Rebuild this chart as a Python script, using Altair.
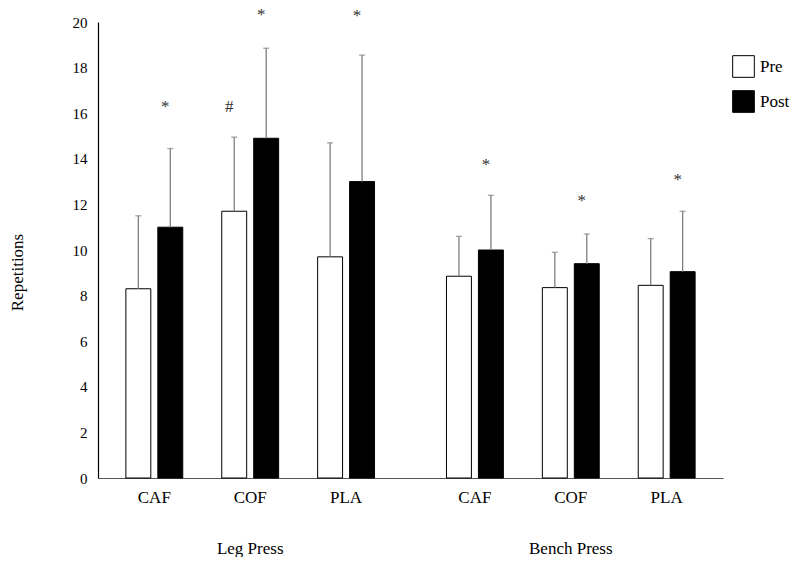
import altair as alt
import pandas as pd

presses = ["Leg Press", "Bench Press"]
supplements = ["CAF", "COF", "PLA"]
phases = ["Pre", "Post"]

# means, index [press][supplement]
pre_mean = [[8.3, 11.7, 9.7], [8.85, 8.35, 8.45]]
post_mean = [[11.0, 14.9, 13.0], [10.0, 9.4, 9.05]]
# mean + SD (top of error bar)
pre_top = [[11.5, 14.95, 14.7], [10.6, 9.9, 10.5]]
post_top = [[14.45, 18.85, 18.55], [12.4, 10.7, 11.7]]
# significance markers: press, supplement, phase, symbol, level (repetitions)
mk_press = ["Leg Press", "Leg Press", "Leg Press", "Leg Press", "Bench Press", "Bench Press", "Bench Press"]
mk_supp = ["CAF", "COF", "COF", "PLA", "CAF", "COF", "PLA"]
mk_phase = ["Post", "Pre", "Post", "Post", "Post", "Post", "Post"]
mk_sym = ["*", "#", "*", "*", "*", "*", "*"]
mk_level = [16.4, 16.4, 20.45, 20.4, 13.85, 12.3, 13.2]

rows = []
for i, p in enumerate(presses):
    for j, s in enumerate(supplements):
        for ph, m, t in (("Pre", pre_mean, pre_top), ("Post", post_mean, post_top)):
            rows.append({"press": p, "supp": s, "phase": ph, "slot": f"{s}-{ph}",
                         "mean": m[i][j], "top": t[i][j]})
df = pd.DataFrame(rows)

mk = pd.DataFrame({"press": mk_press, "slot": [f"{s}-{ph}" for s, ph in zip(mk_supp, mk_phase)],
                   "sym": mk_sym, "level": mk_level})

lab = pd.DataFrame([{"press": p, "supp": s, "slot": f"{s}-Post"} for p in presses for s in supplements])

slot_domain = ["CAF-Pre", "CAF-Post", "gap1", "COF-Pre", "COF-Post", "gap2", "PLA-Pre", "PLA-Post"]

FONT = "Liberation Serif"
W, H = 625, 456

x = alt.X("press:N", sort=presses,
          scale=alt.Scale(paddingInner=0.2025, paddingOuter=0.076),
          axis=alt.Axis(title=None, labelAngle=0, ticks=False, domainColor="#555555",
                        labelPadding=62, labelFontSize=17, labelFont=FONT, labelColor="black"))
xo = alt.XOffset("slot:N", scale=alt.Scale(domain=slot_domain, paddingInner=0.22, paddingOuter=0.11))
y = alt.Y("mean:Q", scale=alt.Scale(domain=[0, 20]),
          axis=alt.Axis(title="Repetitions", values=list(range(0, 21, 2)), grid=False, ticks=False,
                        domainColor="black", labelPadding=11, labelFontSize=15, labelFont=FONT,
                        labelColor="black", titleFont=FONT, titleFontSize=17, titleFontWeight="normal",
                        titleColor="black", titleX=-81, titleY=250, titleAlign="center",
                        titleBaseline="middle", titleAngle=270))

bars = alt.Chart(df).mark_bar(stroke="black", strokeWidth=1).encode(
    x=x, xOffset=xo, y=y,
    fill=alt.Fill("phase:N", sort=phases,
                  scale=alt.Scale(domain=phases, range=["white", "black"]),
                  legend=alt.Legend(title=None, orient="none", legendX=634, legendY=33,
                                    symbolType="square", symbolSize=470, symbolStrokeColor="black",
                                    symbolStrokeWidth=1, labelFont=FONT, labelFontSize=17,
                                    labelColor="black", labelOffset=5, rowPadding=8)),
)

err = alt.Chart(df).mark_rule(color="#7f7f7f", strokeWidth=1.3).encode(
    x=alt.X("press:N", sort=presses), xOffset=xo, y="mean:Q", y2="top:Q")
cap = alt.Chart(df).mark_tick(color="#7f7f7f", thickness=1.3, size=6, orient="horizontal").encode(
    x=alt.X("press:N", sort=presses), xOffset=xo, y="top:Q")

stars = alt.Chart(mk).mark_text(font=FONT, fontSize=17, color="#333333", dy=3, dx=-5,
                                baseline="middle").encode(
    x=alt.X("press:N", sort=presses), xOffset=xo, y="level:Q", text="sym:N")

labels = alt.Chart(lab).mark_text(font=FONT, fontSize=17, color="black", dx=-16,
                                  baseline="middle").encode(
    x=alt.X("press:N", sort=presses), xOffset=xo, y=alt.value(H + 20), text="supp:N")

chart = alt.layer(bars, err, cap, stars, labels).properties(
    width=W, height=H,
    autosize=alt.AutoSizeParams(type="none"),
    padding={"left": 90, "top": 14, "right": 69, "bottom": 79},
).configure_view(stroke=None).configure_axis(domainWidth=1.2)

chart.save("out.html", embed_options={"renderer": "svg", "actions": False})
